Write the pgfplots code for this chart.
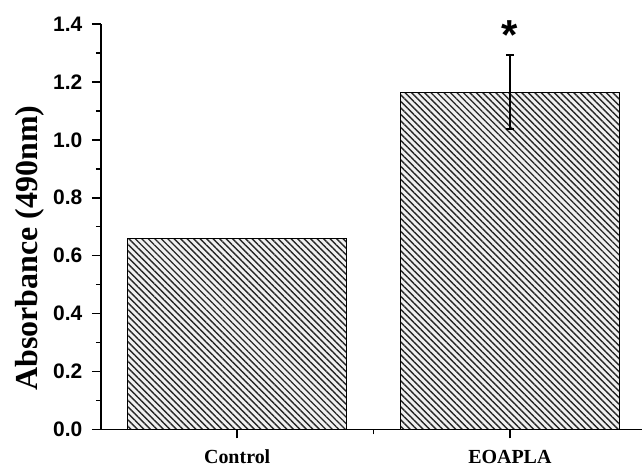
\documentclass[border=0pt]{standalone}
\usepackage{fontspec}
\setmainfont{Liberation Serif}
\newfontfamily\arialf{Liberation Sans}
\usepackage{pgfplots}
\pgfplotsset{compat=1.18}
\usetikzlibrary{patterns.meta}
\begin{document}
\begin{tikzpicture}
\begin{axis}[
  scale only axis,
  width=542pt, height=406pt,
  xmin=0.5, xmax=2.485,
  ymin=0, ymax=1.4,
  axis lines*=left,
  axis line style={line width=1.8pt, -},
  xtick={1,2}, xticklabels={Control,EOAPLA},
  minor xtick={1.5},
  ytick={0,0.2,...,1.4},
  minor ytick={0.1,0.3,...,1.3},
  tick align=outside,
  major tick length=9pt, minor tick length=5pt,
  every tick/.style={black, line width=1.6pt},
  yticklabel style={font=\arialf\bfseries\fontsize{21}{24}\selectfont, /pgf/number format/fixed, /pgf/number format/fixed zerofill, /pgf/number format/precision=1, xshift=-6pt},
  /pgf/number format/assume math mode=true,
  xticklabel style={font=\bfseries\fontsize{20}{22}\selectfont, yshift=-8pt},
  ylabel={Absorbance (490nm)},
  every axis y label/.style={at={(axis description cs:-0.131,0.447)}, rotate=90, anchor=center, font=\bfseries\fontsize{32}{36}\selectfont},
  clip=false,
]
\addplot[ybar, bar width=219pt, draw=black, line width=1pt, fill=gray!12,
  postaction={pattern={Lines[angle=-45, distance=4.6pt, line width=1.4pt]}, pattern color=black!85}]
  coordinates {(1,0.66)};
\addplot[ybar, bar width=219pt, draw=black, line width=1pt, fill=gray!12,
  postaction={pattern={Lines[angle=-45, distance=4.6pt, line width=1.4pt]}, pattern color=black!85},
  error bars/.cd, y dir=both, y explicit, error bar style={line width=1.5pt, black}, error mark options={rotate=90, mark size=4pt, line width=1.5pt, black}]
  coordinates {(2,1.165) +- (0,0.127)};
\node[font=\arialf\bfseries\fontsize{42}{42}\selectfont] at (axis cs:2,1.36) {*};
\end{axis}
\path[use as bounding box] (-101pt,-37pt) rectangle (542pt,430pt);
\end{tikzpicture}
\end{document}
